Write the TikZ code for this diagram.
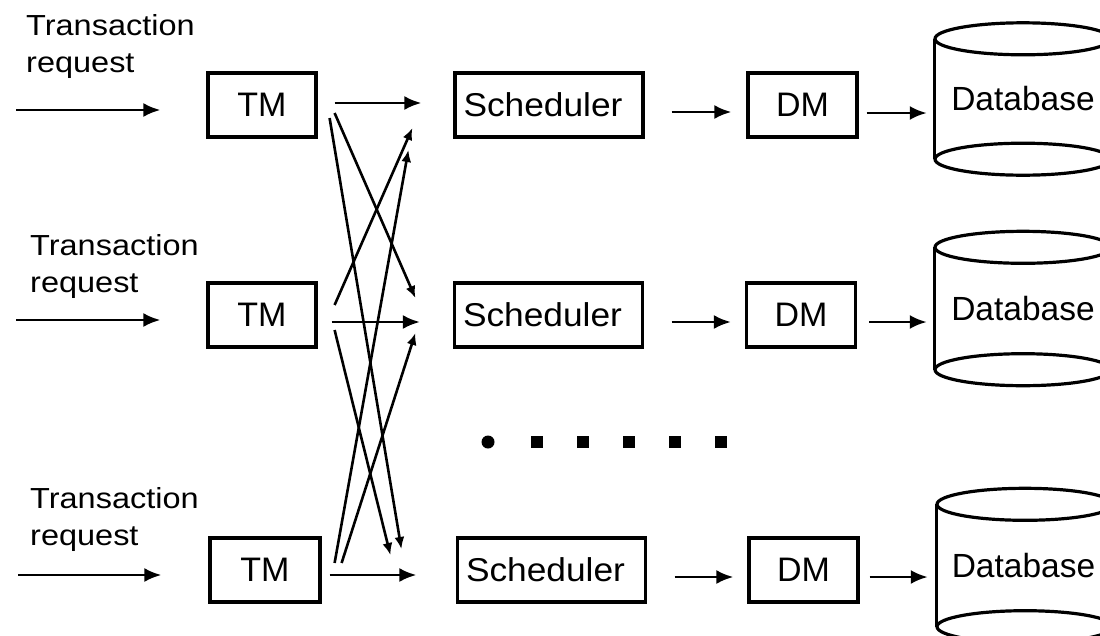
\documentclass[tikz,border=0pt]{standalone}
\usepackage{fontspec}
\setmainfont{Liberation Sans}
\usetikzlibrary{arrows.meta,calc}
\begin{document}
\begin{tikzpicture}[x=1pt,y=-1pt,
  box/.style={draw, line width=3.2pt, inner sep=0pt},
  tmbox/.style={box, minimum width=108pt, minimum height=64pt, font=\fontsize{34}{40}\selectfont},
  schbox/.style={box, minimum width=188pt, minimum height=64pt, font=\fontsize{33}{40}\selectfont},
  dmbox/.style={box, minimum width=109pt, minimum height=64pt, font=\fontsize{34}{40}\selectfont},
  dbnode/.style={inner sep=0pt, minimum width=176pt, minimum height=120pt, font=\fontsize{33.5}{40}\selectfont},
  lab/.style={anchor=north west, inner sep=0pt, align=left, font=\fontsize{29}{37}\selectfont},
  arr/.style={line width=2.8pt, -{Latex[length=17pt,width=14pt]}},
  xarr/.style={line width=2.6pt, -{Latex[length=12pt,width=10pt]}},
  cyl/.style={line width=3.2pt}
]
\useasboundingbox (0,0) rectangle (1100,635);
\clip (0,0) rectangle (1100,635);

% labels
\node[lab] (lab1) at (26,14) {\scalebox{1.12}[1]{Transaction}\\\scalebox{1.12}[1]{request}};
\node[lab] (lab2) at (30,234) {\scalebox{1.12}[1]{Transaction}\\\scalebox{1.12}[1]{request}};
\node[lab] (lab3) at (30,487) {\scalebox{1.12}[1]{Transaction}\\\scalebox{1.12}[1]{request}};

% boxes
\node[tmbox] (tm1) at (262,105) {TM};
\node[tmbox] (tm2) at (262,315) {TM};
\node[tmbox, minimum width=110pt] (tm3) at (265,570) {TM};
\node[schbox] (sch1) at (549,105) {\hspace*{-12pt}\scalebox{1.07}[1]{Scheduler}};
\node[schbox] (sch2) at (548.5,315) {\hspace*{-12pt}\scalebox{1.07}[1]{Scheduler}};
\node[schbox] (sch3) at (551.5,570) {\hspace*{-12pt}\scalebox{1.07}[1]{Scheduler}};
\node[dmbox] (dm1) at (802.5,105) {DM};
\node[dmbox] (dm2) at (801,315) {DM};
\node[dmbox] (dm3) at (803.5,570) {DM};
\node[dbnode] (db1) at (1023,99) {Database};
\node[dbnode, minimum height=122pt] (db2) at (1023,308.5) {Database};
\node[dbnode, minimum height=122pt] (db3) at (1025,565.5) {\hspace*{-3pt}Database};

% cylinders
\foreach \d in {db1,db2,db3}{
  \draw[cyl] (\d.north west) -- (\d.south west) (\d.north east) -- (\d.south east);
  \draw[cyl] (\d.north) ellipse [x radius=88pt, y radius=16pt];
  \draw[cyl] (\d.south) ellipse [x radius=88pt, y radius=16pt];
}

% input arrows
\coordinate (i1) at ([xshift=-190pt,yshift=-5pt]tm1.west);
\coordinate (i2) at ([xshift=-190pt,yshift=-5pt]tm2.west);
\coordinate (i3) at ([xshift=-190pt,yshift=-5pt]tm3.west);
\draw[arr, shorten >=46pt] (i1) -- (i1 -| tm1.west);
\draw[arr, shorten >=46pt] (i2) -- (i2 -| tm2.west);
\draw[arr, shorten >=47pt] (i3) -- (i3 -| tm3.west);

% TM -> Scheduler
\coordinate (t1) at ([xshift=17pt,yshift=2pt]tm1.east);
\coordinate (t2) at ([xshift=14pt,yshift=-7pt]tm2.east);
\coordinate (t3) at ([xshift=8pt,yshift=-5pt]tm3.east);
\draw[arr, shorten >=32pt] (t1) -- (t1 -| sch1.west);
\draw[arr, shorten >=33pt] (t2) -- (t2 -| sch2.west);
\draw[arr, shorten >=39.5pt] (t3) -- (t3 -| sch3.west);

% Scheduler -> DM
\coordinate (s1) at ([xshift=27pt,yshift=-7pt]sch1.east);
\coordinate (s2) at ([xshift=27.5pt,yshift=-7pt]sch2.east);
\coordinate (s3) at ([xshift=27.5pt,yshift=-7pt]sch3.east);
\draw[arr, shorten >=15pt] (s1) -- (s1 -| dm1.west);
\draw[arr, shorten >=14pt] (s2) -- (s2 -| dm2.west);
\draw[arr, shorten >=14pt] (s3) -- (s3 -| dm3.west);

% DM -> Database
\coordinate (d1) at ([xshift=8pt,yshift=-8pt]dm1.east);
\coordinate (d2) at ([xshift=12pt,yshift=-7pt]dm2.east);
\coordinate (d3) at ([xshift=10pt,yshift=-7pt]dm3.east);
\draw[arr, shorten >=8pt] (d1) -- (d1 -| db1.west);
\draw[arr, shorten >=8pt] (d2) -- (d2 -| db2.west);
\draw[arr, shorten >=9pt] (d3) -- (d3 -| db3.west);

% crossing arrows
\draw[xarr] ([xshift=12pt,yshift=-13pt]tm1.east) -- ([xshift=-54.5pt,yshift=21pt]sch3.west);
\draw[xarr] ([xshift=17pt,yshift=-8pt]tm1.east) -- ([xshift=-37.5pt,yshift=17pt]sch2.west);
\draw[xarr] ([xshift=17pt,yshift=10pt]tm2.east) -- ([xshift=-41pt,yshift=-23pt]sch1.west);
\draw[xarr] ([xshift=17pt,yshift=-15pt]tm2.east) -- ([xshift=-65.5pt,yshift=15pt]sch3.west);
\draw[xarr] ([xshift=13pt,yshift=7pt]tm3.east) -- ([xshift=-45pt,yshift=-45pt]sch1.west);
\draw[xarr] ([xshift=20pt,yshift=7pt]tm3.east) -- ([xshift=-37.5pt,yshift=-18pt]sch2.west);

% dots
\fill (488,442) circle (6.5pt);
\foreach \x in {537,583,629,675,721}{
  \fill (\x-6,436) rectangle (\x+6,448);
}
\end{tikzpicture}
\end{document}
